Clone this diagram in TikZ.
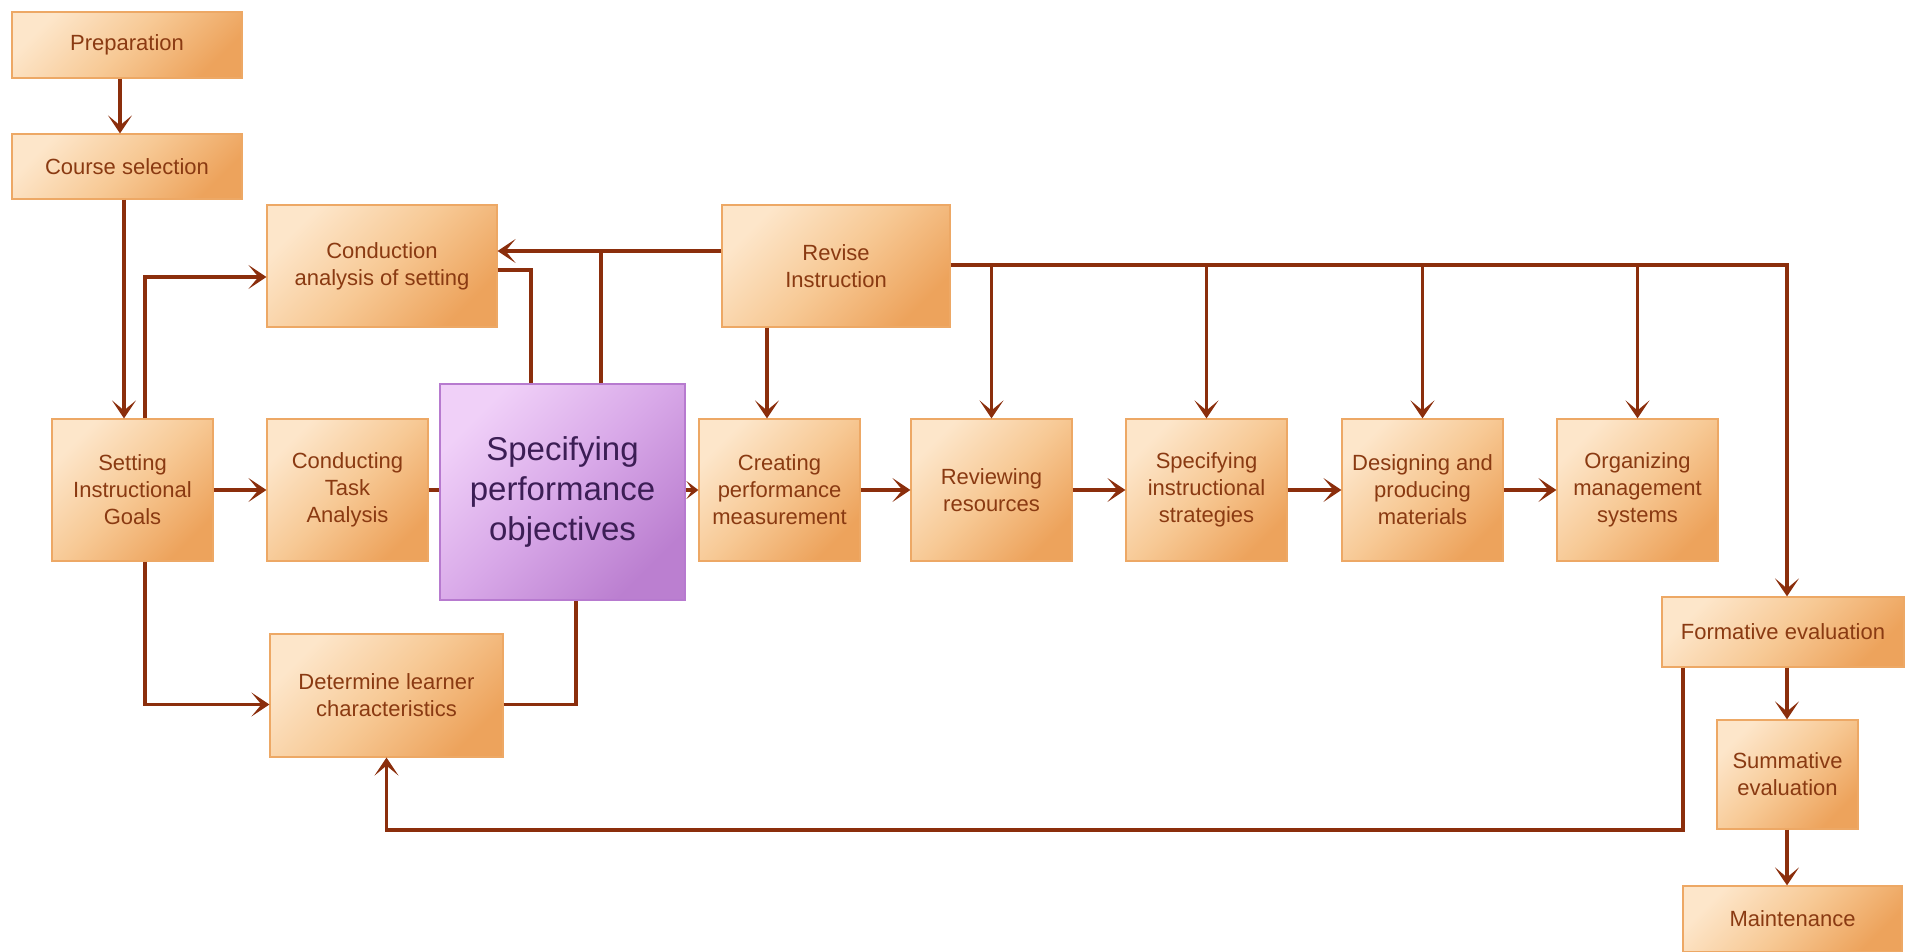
\documentclass[tikz,border=0pt]{standalone}
\usepackage{fontspec}
\setmainfont{Liberation Sans}
\usetikzlibrary{arrows.meta,calc}

\definecolor{linebrown}{HTML}{8B2E0C}
\definecolor{txtbrown}{HTML}{8A3A12}
\definecolor{boxlight}{HTML}{FDE6CA}
\definecolor{boxmid}{HTML}{F7C995}
\definecolor{boxdark}{HTML}{EDA35C}
\definecolor{boxedge}{HTML}{EDA865}
\definecolor{plight}{HTML}{F0D0F8}
\definecolor{pmid}{HTML}{D8A8E8}
\definecolor{pdark}{HTML}{BB7FD0}
\definecolor{pedge}{HTML}{B77ACF}
\definecolor{ptext}{HTML}{3C1E55}

\begin{document}
\begin{tikzpicture}[x=1pt,y=-1pt,
  sz/.style 2 args={minimum width=#1pt, minimum height=#2pt},
  stepbox/.style={draw=boxedge, line width=1.2pt,
    top color=boxlight, bottom color=boxdark, middle color=boxmid,
    shading angle=45, text=txtbrown, align=center, inner sep=0pt,
    font=\fontsize{22}{27}\selectfont},
  keybox/.style={draw=pedge, line width=1.2pt,
    top color=plight, bottom color=pdark, middle color=pmid,
    shading angle=45, text=ptext, align=center, inner sep=0pt,
    font=\fontsize{33}{40}\selectfont},
  link/.style={draw=linebrown, line width=3.8pt},
  arr/.style={link, -{Stealth[length=18pt,width=24pt,inset=10pt]}},
  shortarr/.style={link, -{Stealth[length=12pt,width=18pt,inset=6pt]}}
  ]
\useasboundingbox (0,0) rectangle (1905,952);

% process steps
\node[stepbox, sz={230}{66}]  (prep)      at (127,45)      {Preparation};
\node[stepbox, sz={230}{65}]  (course)    at (127,166.5)   {Course selection};
\node[stepbox, sz={230}{122}] (setting)   at (382,266)     {Conduction\\analysis of setting};
\node[stepbox, sz={228}{122}] (revise)    at (836,266)     {Revise\\Instruction};
\node[stepbox, sz={161}{142}] (goals)     at (132.5,490)   {Setting\\Instructional\\Goals};
\node[stepbox, sz={161}{142}] (task)      at (347.5,490)   {Conducting\\Task\\Analysis};
\node[keybox,  sz={245}{216}] (perf)      at (562.5,492)   {Specifying\\performance\\objectives};
\node[stepbox, sz={161}{142}] (measure)   at (779.5,490)   {Creating\\performance\\measurement};
\node[stepbox, sz={161}{142}] (review)    at (991.5,490)   {Reviewing\\resources};
\node[stepbox, sz={161}{142}] (strat)     at (1206.5,490)  {Specifying\\instructional\\strategies};
\node[stepbox, sz={161}{142}] (design)    at (1422.5,490)  {Designing and\\producing\\materials};
\node[stepbox, sz={161}{142}] (organize)  at (1637.5,490)  {Organizing\\management\\systems};
\node[stepbox, sz={233}{123}] (learner)   at (386.5,695.5) {Determine learner\\characteristics};
\node[stepbox, sz={242}{70}]  (formative) at (1783,632)    {Formative evaluation};
\node[stepbox, sz={141}{109}] (summative) at (1787.5,774.5){Summative\\evaluation};
\node[stepbox, sz={219}{66}]  (maint)     at (1792.5,919)  {Maintenance};

% routing guides
\coordinate (xa) at (124,0);
\coordinate (xb) at (145,0);
\coordinate (xc) at (531,0);
\coordinate (xd) at (601,0);
\coordinate (xe) at (576,0);
\coordinate (xf) at (767,0);
\coordinate (xg) at (1787,0);
\coordinate (xh) at (1683,0);
\coordinate (upper) at (0,251);
\coordinate (bus) at (0,265);
\coordinate (back) at (0,830);

% connectors
\draw[arr] ([xshift=-7pt]prep.south) -- ([xshift=-7pt]course.north);
\draw[arr] (course.south -| xa) -- (goals.north -| xa);
\draw[arr] (goals.north -| xb) |- ([yshift=-11pt]setting.west);
\draw[arr] (revise.west |- upper) -- (setting.east |- upper);
\draw[link] ([yshift=-4pt]setting.east) -| (perf.north -| xc);
\draw[link] (perf.north -| xd) -- (xd |- upper);
\draw[link] (task.east) -- (perf.west |- task.east);
\draw[shortarr] (perf.east |- measure.west) -- (measure.west);
\draw[arr] (goals.east) -- (task.west);
\draw[arr] (measure.east) -- (review.west);
\draw[arr] (review.east) -- (strat.west);
\draw[arr] (strat.east) -- (design.west);
\draw[arr] (design.east) -- (organize.west);
\draw[arr] (goals.south -| xb) |- ([yshift=-9pt]learner.west);
\draw[link] ([yshift=-9pt]learner.east) -| (perf.south -| xe);
\draw[arr] (revise.south -| xf) -- (measure.north -| xf);
\draw[arr] (revise.east |- bus) -| (formative.north -| xg);
\foreach \n in {review,strat,design,organize}
  \draw[arr] (bus -| \n.north) -- (\n.north);
\draw[arr] (formative.south -| xg) -- (summative.north -| xg);
\draw[arr] (summative.south -| xg) -- (maint.north -| xg);
\draw[arr] (formative.south -| xh) |- (learner.south |- back) -- (learner.south);
\end{tikzpicture}
\end{document}
